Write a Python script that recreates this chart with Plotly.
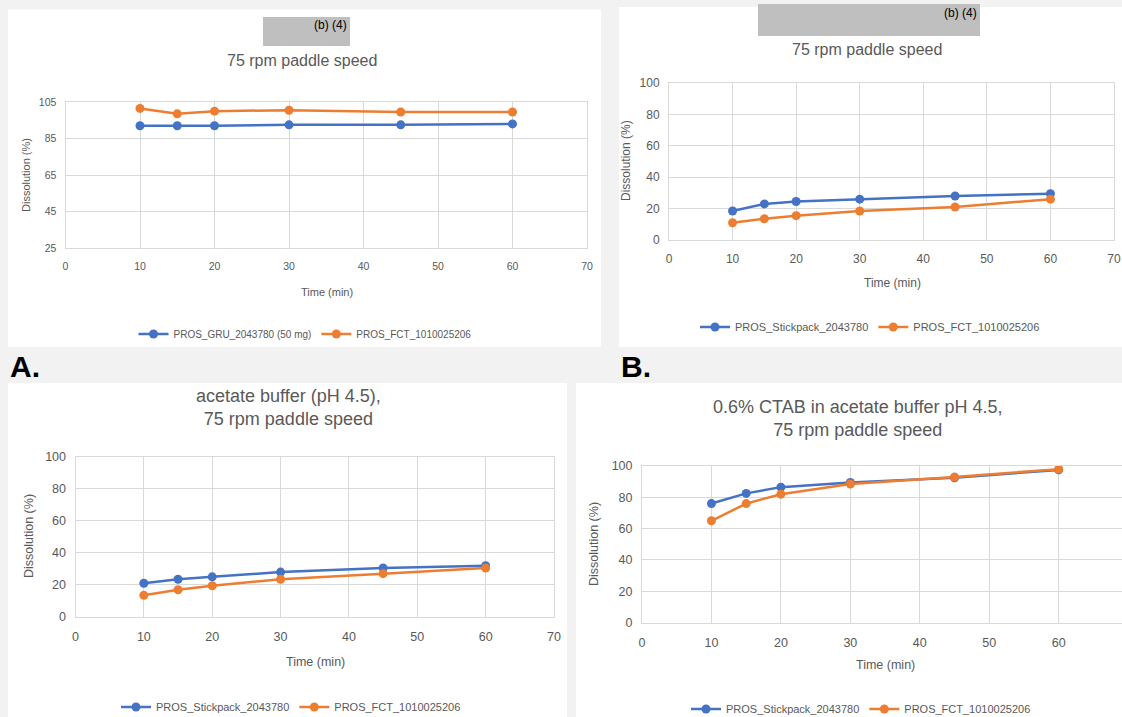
import plotly.graph_objects as go

W, H = 1122, 717

# ---------------- data ----------------
time_min = [10, 15, 20, 30, 45, 60]

a_names = ["PROS_GRU_2043780 (50 mg)", "PROS_FCT_1010025206"]
a_blue = [92.0, 92.0, 92.0, 92.5, 92.5, 93.0]
a_orange = [101.5, 98.5, 100.0, 100.5, 99.5, 99.5]

b_names = ["PROS_Stickpack_2043780", "PROS_FCT_1010025206"]
b_blue = [18.5, 23.0, 24.5, 26.0, 28.0, 29.5]
b_orange = [11.0, 13.5, 15.5, 18.5, 21.0, 26.0]

c_names = ["PROS_Stickpack_2043780", "PROS_FCT_1010025206"]
c_blue = [21.0, 23.5, 25.0, 28.0, 30.5, 32.0]
c_orange = [13.5, 17.0, 19.5, 23.5, 27.0, 30.5]

d_names = ["PROS_Stickpack_2043780", "PROS_FCT_1010025206"]
d_blue = [76.0, 82.5, 86.5, 89.5, 92.5, 97.5]
d_orange = [65.0, 76.0, 82.0, 88.5, 93.0, 98.0]

title_a = "75 rpm paddle speed"
title_b = "75 rpm paddle speed"
title_c = "acetate buffer (pH 4.5),<br>75 rpm paddle speed"
title_d = "0.6% CTAB in acetate buffer pH 4.5,<br>75 rpm paddle speed"
y_title = "Dissolution (%)"
x_title = "Time (min)"
redacted = "(b) (4)"

BLUE = "#4472C4"
ORANGE = "#ED7D31"
TXT = "#595959"
GRID = "#d9d9d9"
FONT = "Liberation Sans, Arial, sans-serif"


def px(x):
    return x / W


def py(y):
    return 1 - y / H


fig = go.Figure()

panels = [
    dict(k="", xd=(65.5, 587), yd=(102, 248), xr=[0, 70], yr=[25, 105], t0=25,
         data=(a_blue, a_orange), names=a_names, leg=(305, 334), tf=10.5, lf=10),
    dict(k="2", xd=(669, 1114), yd=(83, 240), xr=[0, 70], yr=[0, 100], t0=0,
         data=(b_blue, b_orange), names=b_names, leg=(870, 327), tf=12, lf=11),
    dict(k="3", xd=(75.5, 554), yd=(456.5, 617), xr=[0, 70], yr=[0, 100], t0=0,
         data=(c_blue, c_orange), names=c_names, leg=(291, 707), tf=12.5, lf=11),
    dict(k="4", xd=(642, 1122), yd=(466, 622.5), xr=[0, (1122 - 642) / 69.45 * 10], yr=[0, 100], t0=0,
         data=(d_blue, d_orange), names=d_names, leg=(861, 709), tf=12.5, lf=11),
]

for p in panels:
    k = p["k"]
    xa = "x" + k
    ya = "y" + k
    legname = "legend" + k
    for vals, name, col in zip(p["data"], p["names"], (BLUE, ORANGE)):
        fig.add_trace(go.Scatter(
            x=time_min, y=vals, name=name, mode="lines+markers",
            line=dict(color=col, width=2.5),
            marker=dict(color=col, size=9),
            xaxis=xa, yaxis=ya, legend=legname,
        ))
    axkw = dict(showgrid=True, gridcolor=GRID, gridwidth=1, zeroline=False,
                showline=True, linecolor=GRID, linewidth=1, mirror=True,
                tickfont=dict(family=FONT, size=p["tf"], color=TXT),
                ticks="outside", tickcolor="rgba(0,0,0,0)", automargin=False)
    fig.layout["xaxis" + k] = dict(domain=[px(p["xd"][0]), px(p["xd"][1])],
                                   range=p["xr"], dtick=10, tick0=0,
                                   anchor=ya, ticklen=8, **axkw)
    fig.layout["yaxis" + k] = dict(domain=[py(p["yd"][1]), py(p["yd"][0])],
                                   range=p["yr"], dtick=20, tick0=p["t0"],
                                   anchor=xa, ticklen=6, **axkw)
    fig.layout[legname] = dict(orientation="h", x=px(p["leg"][0]), y=py(p["leg"][1]),
                               xanchor="center", yanchor="middle",
                               bgcolor="rgba(0,0,0,0)",
                               font=dict(family=FONT, size=p["lf"], color=TXT),
                               itemwidth=30, tracegroupgap=0)

# white panel backgrounds
panel_boxes = [(8, 9.5, 601, 347), (619, 7, 1122, 347), (8, 383, 567, 717), (576, 383, 1122, 717)]
shapes = []
for x0, y0, x1, y1 in panel_boxes:
    shapes.append(dict(type="rect", xref="paper", yref="paper", layer="below",
                       x0=px(x0), x1=px(x1), y0=py(y1), y1=py(y0),
                       fillcolor="white", line=dict(width=0)))
# redaction boxes
for x0, y0, x1, y1 in [(263, 17, 350, 46), (758, 4, 980, 36)]:
    shapes.append(dict(type="rect", xref="paper", yref="paper", layer="above",
                       x0=px(x0), x1=px(x1), y0=py(y1), y1=py(y0),
                       fillcolor="#bfbfbf", line=dict(width=0)))

ann = []


def text(t, x, y, size, color=TXT, xanchor="center", angle=0, bold=False):
    ann.append(dict(text=("<b>%s</b>" % t) if bold else t, x=px(x), y=py(y),
                    xref="paper", yref="paper", showarrow=False,
                    xanchor=xanchor, yanchor="middle", textangle=angle,
                    font=dict(family=FONT, size=size, color=color)))


text(redacted, 349, 25, 12, "black", xanchor="right")
text(redacted, 979, 13, 12, "black", xanchor="right")
text(title_a, 302, 60, 16)
text(title_b, 867, 50, 16)
text(title_c, 288, 407, 18)
text(title_d, 858, 418, 18)
text(y_title, 26, 175, 11, angle=-90)
text(x_title, 327, 292, 11)
text(y_title, 626, 161, 12, angle=-90)
text(x_title, 892, 283, 12)
text(y_title, 29, 536, 12.5, angle=-90)
text(x_title, 315, 662, 12.5)
text(y_title, 594, 544, 12.5, angle=-90)
text(x_title, 885, 665, 12.5)
text("A.", 8, 366, 30, "black", xanchor="left", bold=True)
text("B.", 619, 366, 30, "black", xanchor="left", bold=True)

fig.update_layout(
    width=W, height=H, margin=dict(l=0, r=0, t=0, b=0, pad=0, autoexpand=False),
    paper_bgcolor="#f2f2f2", plot_bgcolor="white",
    shapes=shapes, annotations=ann, showlegend=True,
)

fig.write_html(
    "out.html",
    config={"displayModeBar": False},
    post_script="document.body.style.margin='0';document.body.style.padding='0';"
                "document.documentElement.style.overflow='hidden';",
)
